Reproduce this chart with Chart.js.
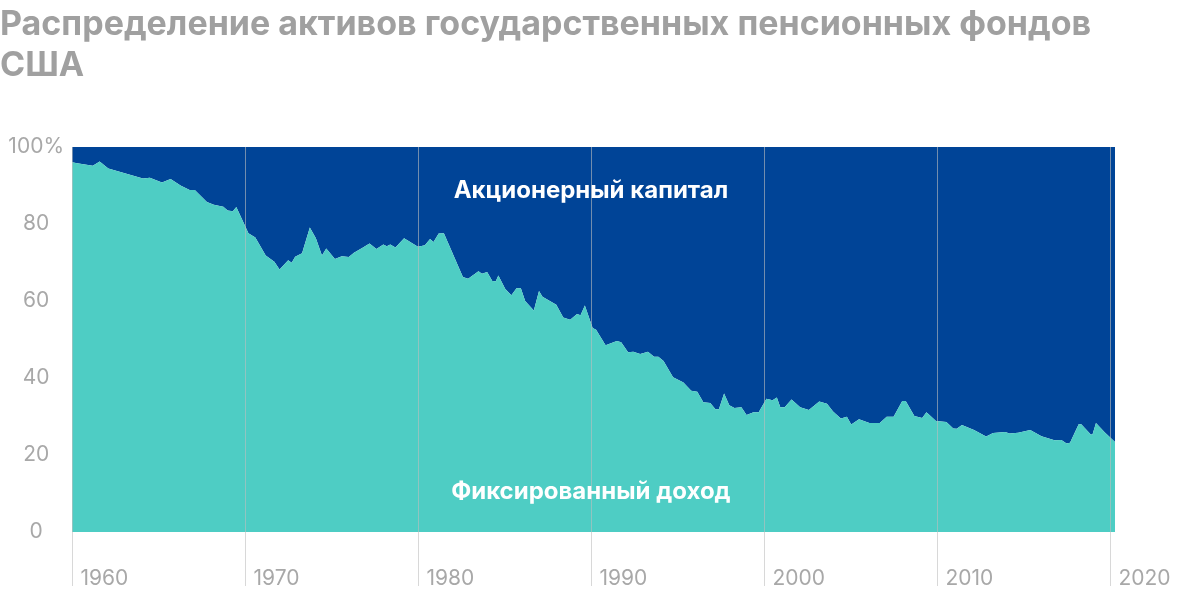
<!DOCTYPE html>
<html>
<head>
<meta charset="utf-8">
<script src="https://cdn.jsdelivr.net/npm/chart.js@4"></script>
<style>
  body { margin: 0; background: #fff; }
  #wrap { width: 1200px; height: 593px; }
</style>
</head>
<body>
<div id="wrap"><canvas id="chart"></canvas></div>
<script>
// years (fractional) and share of fixed income, %
const years = [1960.0, 1960.3, 1961.2, 1961.6, 1962.1, 1964.1, 1964.5, 1965.2, 1965.7, 1966.3, 1966.8, 1967.1, 1967.8, 1968.2, 1968.75, 1969.0, 1969.3, 1969.5,
  1970.2, 1970.6, 1971.2, 1971.7, 1972.0, 1972.5, 1972.7, 1972.9, 1973.3, 1973.75, 1974.1, 1974.45, 1974.7, 1975.2, 1975.6, 1976.0, 1976.3, 1976.8, 1977.2, 1977.6, 1978.0, 1978.2, 1978.4, 1978.7, 1979.2,
  1980.0, 1980.4, 1980.7, 1980.9, 1981.2, 1981.5, 1982.6, 1982.9, 1983.5, 1983.7, 1984.0, 1984.3, 1984.5, 1984.65, 1985.05, 1985.4, 1985.7, 1985.95, 1986.2, 1986.7, 1987.0, 1987.2, 1988.0, 1988.4, 1988.8, 1989.2, 1989.4, 1989.65,
  1990.1, 1990.3, 1990.85, 1991.5, 1991.75, 1992.15, 1992.45, 1992.85, 1993.3, 1993.65, 1993.9, 1994.2, 1994.75, 1995.35, 1995.8, 1996.15, 1996.5, 1996.9, 1997.2, 1997.4, 1997.7, 1998.0, 1998.3, 1998.7, 1999.0, 1999.4, 1999.7,
  2000.15, 2000.5, 2000.75, 2000.95, 2001.2, 2001.6, 2002.1, 2002.6, 2003.2, 2003.65, 2004.0, 2004.45, 2004.8, 2005.05, 2005.5, 2006.1, 2006.7, 2007.1, 2007.5, 2008.0, 2008.2, 2008.7, 2009.15, 2009.4, 2009.95,
  2010.55, 2010.95, 2011.15, 2011.45, 2012.15, 2012.85, 2013.25, 2013.95, 2014.2, 2014.7, 2015.4, 2016.05, 2016.8, 2017.2, 2017.5, 2017.7, 2018.2, 2018.35, 2018.9, 2019.0, 2019.2, 2019.7, 2020.3];
const fixedIncome = [96.0, 95.8, 95.1, 96.2, 94.4, 91.8, 92.0, 90.8, 91.7, 89.9, 88.8, 88.8, 85.7, 85.0, 84.5, 83.5, 83.3, 84.4,
  77.6, 76.5, 71.8, 70.2, 68.2, 70.6, 69.9, 71.5, 72.4, 79.1, 76.3, 71.8, 73.6, 70.9, 71.6, 71.4, 72.5, 73.8, 74.9, 73.5, 74.7, 74.2, 74.7, 73.9, 76.3,
  74.1, 74.5, 76.1, 75.3, 77.5, 77.6, 66.2, 65.8, 67.7, 67.1, 67.5, 65.2, 65.1, 66.6, 63.1, 61.5, 63.3, 63.3, 60.0, 57.5, 62.6, 61.1, 59.0, 55.7, 55.1, 56.6, 56.3, 58.8,
  53.0, 52.5, 48.5, 49.6, 49.3, 46.7, 46.8, 46.2, 46.8, 45.5, 45.5, 44.4, 40.2, 38.8, 36.7, 36.4, 33.7, 33.5, 31.9, 31.9, 36.0, 32.9, 32.2, 32.4, 30.4, 31.1, 31.1,
  34.6, 34.2, 34.9, 32.4, 32.4, 34.4, 32.4, 31.7, 33.9, 33.3, 31.3, 29.5, 29.9, 27.9, 29.3, 28.3, 28.3, 29.9, 29.9, 34.0, 34.0, 30.1, 29.6, 31.1, 28.8,
  28.6, 26.9, 26.8, 27.8, 26.5, 24.8, 25.7, 26.0, 25.6, 25.8, 26.5, 24.9, 23.8, 23.9, 23.0, 23.2, 28.0, 28.0, 25.3, 25.3, 28.3, 25.9, 23.4];
const equity = fixedIncome.map(v => 100 - v);
const xTicks = [1960, 1970, 1980, 1990, 2000, 2010, 2020];
const yTicks = [0, 20, 40, 60, 80, 100];

const FONT = 'Inter, Roboto, "Noto Sans", sans-serif';

// decade lines over the areas + year labels, and labels inside the areas
const overlay = {
    id: 'overlay',
    afterDatasetsDraw(chart) {
        const { ctx, chartArea, scales: { x, y } } = chart;
        ctx.save();
        ctx.strokeStyle = 'rgba(190,190,190,0.6)';
        ctx.lineWidth = 1;
        ctx.fillStyle = '#a8a8a8';
        ctx.font = '21px ' + FONT;
        ctx.textAlign = 'left';
        ctx.textBaseline = 'alphabetic';
        xTicks.forEach(v => {
            const px = Math.round(x.getPixelForValue(v)) + 0.5;
            ctx.beginPath();
            ctx.moveTo(px, chartArea.top);
            ctx.lineTo(px, chartArea.bottom + 54);
            ctx.stroke();
            ctx.fillText(String(v), px + 8, chartArea.bottom + 53);
        });

        ctx.fillStyle = '#fff';
        ctx.font = 'bold 24px ' + FONT;
        ctx.textAlign = 'center';
        ctx.textBaseline = 'middle';
        ctx.fillText('Акционерный капитал', x.getPixelForValue(1990), y.getPixelForValue(88.5));
        ctx.fillText('Фиксированный доход', x.getPixelForValue(1990), y.getPixelForValue(10.5));
        ctx.restore();
    }
};

new Chart(document.getElementById('chart'), {
    type: 'line',
    data: {
        datasets: [{
            label: 'Фиксированный доход',
            data: years.map((yr, i) => ({ x: yr, y: fixedIncome[i] })),
            backgroundColor: '#4ecdc4',
            borderWidth: 0,
            pointRadius: 0,
            fill: 'origin',
            tension: 0
        }, {
            label: 'Акционерный капитал',
            data: years.map((yr, i) => ({ x: yr, y: equity[i] })),
            backgroundColor: '#004497',
            borderWidth: 0,
            pointRadius: 0,
            fill: '-1',
            tension: 0
        }]
    },
    options: {
        responsive: true,
        maintainAspectRatio: false,
        animation: false,
        layout: { padding: { left: 0, right: 85, top: 0, bottom: 0 } },
        plugins: {
            legend: { display: false },
            tooltip: { enabled: false },
            title: {
                display: true,
                text: ['Распределение активов государственных пенсионных фондов', 'США'],
                align: 'start',
                color: '#a0a0a0',
                font: { family: FONT, size: 34, weight: 'bold', lineHeight: 1.22 },
                padding: { top: 4, bottom: 60 }
            }
        },
        scales: {
            x: {
                type: 'linear',
                min: 1960,
                max: 2020.3,
                afterFit: (s) => { s.height = 61; },
                grid: { display: false },
                border: { display: false },
                ticks: { display: false }
            },
            y: {
                stacked: true,
                min: 0,
                max: 100,
                afterBuildTicks: (s) => { s.ticks = yTicks.map(v => ({ value: v })); },
                afterFit: (s) => { s.width = 72; },
                grid: { display: false },
                border: { display: false },
                ticks: {
                    crossAlign: 'center',
                    padding: 0,
                    color: '#a8a8a8',
                    font: { family: FONT, size: 21 },
                    callback: (v) => v === 100 ? '100%' : v
                }
            }
        }
    },
    plugins: [overlay]
});
</script>
</body>
</html>
